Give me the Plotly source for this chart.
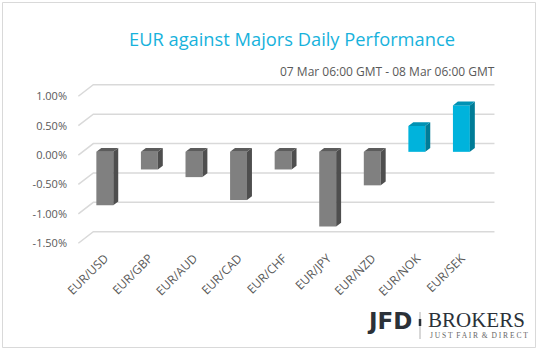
import plotly.graph_objects as go

categories = ["EUR/USD", "EUR/GBP", "EUR/AUD", "EUR/CAD", "EUR/CHF", "EUR/JPY", "EUR/NZD", "EUR/NOK", "EUR/SEK"]
values = [-0.91, -0.30, -0.43, -0.82, -0.30, -1.27, -0.57, 0.44, 0.79]
y_ticks = [-1.5, -1.0, -0.5, 0.0, 0.5, 1.0]
y_ticktext = ["-1.50%", "-1.00%", "-0.50%", "0.00%", "0.50%", "1.00%"]
title_text = "EUR against Majors Daily Performance"
subtitle_text = "07 Mar 06:00 GMT - 08 Mar 06:00 GMT"

W, H = 538, 350
ML, MR, MT, MB = 77, 42, 83, 105
XR = [-0.53, 8.87]
YR = [-1.53, 1.226]

# 3D projection depth (data units)
DX, DY = 0.336, 0.196
FF, BF = 0.28, 0.33   # bar front offset fraction, bar depth fraction
BW = 0.38

NEG = dict(front="#808080", side="#4e4e4e", top="#5c5c5c")
POS = dict(front="#00b3dc", side="#007c97", top="#0092b4")

pw = W - ML - MR
ph = H - MT - MB
def px2x(px):
    return (px - ML) / pw
def px2y(py):
    return (H - MB - py) / ph

fig = go.Figure()
n = len(categories)

shapes = []
# grid (3D wall), drawn below traces
for t in y_ticks:
    path = "M {a},{b} L {c},{d} L {e},{d}".format(a=-0.5, b=t, c=-0.5 + DX, d=t + DY, e=n - 0.5 + DX)
    shapes.append(dict(type="path", xref="x", yref="y", path=path, layer="below",
                       line=dict(color="#d9d9d9", width=1.5)))

fx, fy = FF * DX, FF * DY
bx, by = BF * DX, BF * DY

for pal, sel in ((NEG, lambda v: v < 0), (POS, lambda v: v >= 0)):
    sx, sy, tx, ty = [], [], [], []
    bxs, bys = [], []
    for i, v in enumerate(values):
        if not sel(v):
            continue
        x0 = i - BW / 2 + fx
        x1 = i + BW / 2 + fx
        lo, hi = min(v, 0) + fy, max(v, 0) + fy
        sx += [x1, x1 + bx, x1 + bx, x1, x1, None]
        sy += [lo, lo + by, hi + by, hi, lo, None]
        tx += [x0, x1, x1 + bx, x0 + bx, x0, None]
        ty += [hi, hi, hi + by, hi + by, hi, None]
        bxs.append(i + fx)
        bys.append(v)
    fig.add_trace(go.Bar(x=bxs, y=bys, base=fy, width=BW, marker=dict(color=pal["front"], line=dict(width=0)),
                         hoverinfo="skip", showlegend=False))
    fig.add_trace(go.Scatter(x=sx, y=sy, mode="lines", fill="toself", fillcolor=pal["side"],
                             line=dict(width=0, color=pal["side"]), hoverinfo="skip", showlegend=False))
    fig.add_trace(go.Scatter(x=tx, y=ty, mode="lines", fill="toself", fillcolor=pal["top"],
                             line=dict(width=0, color=pal["top"]), hoverinfo="skip", showlegend=False))

fig.update_layout(
    width=W, height=H,
    margin=dict(l=ML, r=MR, t=MT, b=MB),
    paper_bgcolor="white", plot_bgcolor="white",
    barmode="overlay",
    font=dict(family="Open Sans", color="#595959", size=11),
    xaxis=dict(range=XR, tickvals=[i + fx for i in range(n)], ticktext=categories, tickangle=-45,
               showgrid=False, zeroline=False, showline=False, ticks="", ticklabelstandoff=3,
               tickfont=dict(size=12, color="#595959"), fixedrange=True),
    yaxis=dict(range=YR, tickvals=y_ticks, ticktext=y_ticktext, showgrid=False, zeroline=False,
               showline=False, ticks="", ticklabelstandoff=9,
               tickfont=dict(size=11, color="#595959"), fixedrange=True),
    showlegend=False,
)

ann = []
ann.append(dict(text=title_text, x=px2x(292), y=px2y(39), xref="paper", yref="paper",
                xanchor="center", yanchor="middle", showarrow=False,
                font=dict(family="Open Sans", size=18.3, color="#17b2dc")))
ann.append(dict(text=subtitle_text, x=px2x(497), y=px2y(72), xref="paper", yref="paper",
                xanchor="right", yanchor="middle", showarrow=False,
                font=dict(family="Open Sans", size=12, color="#595959")))
# logo
ann.append(dict(text="<b>JFD</b>", x=px2x(414), y=px2y(321), xref="paper", yref="paper",
                xanchor="right", yanchor="middle", showarrow=False,
                font=dict(family="DejaVu Sans", size=23, color="#2b3138")))
ann.append(dict(text="BROKERS", x=px2x(426), y=px2y(320), xref="paper", yref="paper",
                xanchor="left", yanchor="middle", showarrow=False,
                font=dict(family="Liberation Serif", size=21, color="#2b3138")))
ann.append(dict(text="J U S T  F A I R  &amp;  D I R E C T", x=px2x(428), y=px2y(335.5), xref="paper", yref="paper",
                xanchor="left", yanchor="middle", showarrow=False,
                font=dict(family="Liberation Serif", size=7.5, color="#666666")))
fig.update_layout(annotations=ann)

shapes.append(dict(type="rect", xref="paper", yref="paper",
                   x0=px2x(2.5), x1=px2x(535.5), y0=px2y(2.5), y1=px2y(347.5),
                   line=dict(color="#d9d9d9", width=1), fillcolor="rgba(0,0,0,0)", layer="below"))
shapes.append(dict(type="line", xref="paper", yref="paper",
                   x0=px2x(420), x1=px2x(420), y0=px2y(312), y1=px2y(339),
                   line=dict(color="#b0b0b0", width=1)))
shapes.append(dict(type="line", xref="paper", yref="paper",
                   x0=px2x(420), x1=px2x(420), y0=px2y(319), y1=px2y(326),
                   line=dict(color="#2b3138", width=2.5)))
fig.update_layout(shapes=shapes)

fig.write_html("out.html")
